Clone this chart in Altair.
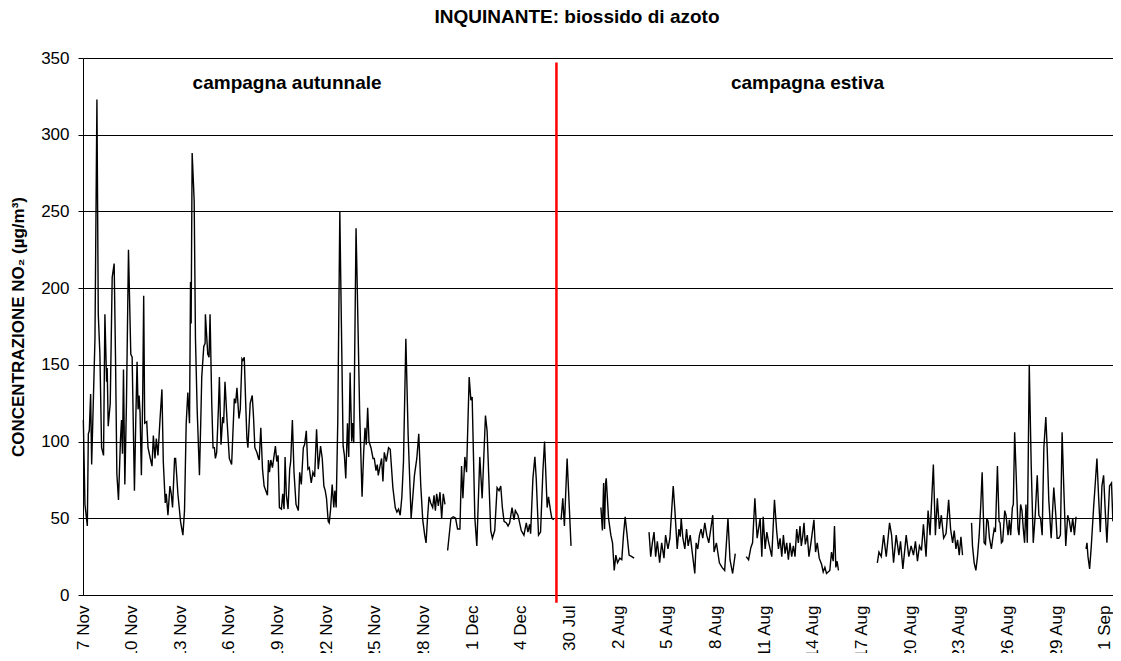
import altair as alt
import pandas as pd

# ---- data (hour index from 7 Nov 00:00, NO2 value); None separates gaps ----
hours = [
    0.5, 2.9, 6.4, 7.9, 9.3, 11.3, 12.8, 15.2, 17.7, 20.6, 22.6, 25, 27.5, 30.4, 32.4, 34.9, 35.8, 37.3, 40.3, 43.2,
    46.1, 48.1, 50.1, 52.5, 55.5, 57, 58.4, 59.9, 61.9, 64.3, 67.3, 70.7, 72.7, 76.1, 78.1, 80, 81.5, 83, 84.4, 86.4,
    88.4, 89.8, 91.3, 94.3, 96.2, 100.1, 102.1, 104.1, 106.5, 108.5, 110.9, 113.9, 114.9, 116.8, 118.8, 121.7, 123.2,
    125.7, 128.6, 130.6, 132.5, 135.5, 137, 140.4, 144.3, 147.8, 150.2, 152.7, 155.1, 157.6, 159.1, 160, 161.5, 164.5,
    166.4, 168.9, 172.3, 174.3, 175.7, 178.7, 180.7, 181.1, 184.6, 186.5, 188, 190.5, 192.4, 194.4, 195.9, 197.8,
    200.3, 201.8, 204.2, 206.7, 208.1, 210.1, 213.1, 216.5, 219.9, 223.9, 225.8, 227.8, 230.7, 232.7, 235.2, 236.6,
    238.6, 240.5, 242.5, 244, 247.4, 250.4, 252.3, 254.3, 257.2, 259.7,
    260.7, 263.1, 265.6, 268, 270.5, 272.9, 274.4, 275.9, 277.9, 280.3, 282.8, 284.7, 286.7, 288.7, 290.6, 293.6,
    295.5, 297.5, 299, 300.9, 303.4, 305.8, 307.3, 309.8, 312.2, 315.2, 318.6, 320.6, 323, 326, 327.9, 330.4, 332.8,
    334.8, 337.7, 340.2, 342.7, 345.6, 348.1, 351.5, 354, 356.4, 358.4, 360.3, 362.8, 364.3, 366.2, 368.7, 371.1,
    372.6, 374.6, 377, 380, 381.4, 384.9, 386.8, 388.8, 391.3, 393.2, 395.2, 397.6, 399.1, 400.6, 404, 405.5, 409.4,
    412.9, 415.3, 417.3, 419.2, 421.2, 423.2, 426.1, 429.1, 431, 433.5, 435.4, 436.9, 439.9, 441.8, 443.8, 445.8,
    448.7, 452.1, 454.6, 458.5, 462, 464.4, 466.9, 469.3, 471.8, 474.2, 477.7, 481.1, 485.5, 488, 490.4, 493.9,
    496.8, 499.8, 502.7, 505.6, 507.6, 509.6, 512, 514.5, 517.4, 519.4, 521.4, 523.3, 525.8, 528.2, 530.7, 533.1,
    535.6, None,
    539.5, 544.4, 547.9, 551.3, 554.2, 557.7, 560.1, 562.1, 565, 567.5, 571.4, 573.9, 575.8, 579.8, 582.7, 587.1,
    590.6, 595.5, 597.9, 603.3, 605.8, 609.2, 612.7, 615.6, 618.1, 620.5, 623, 626.4, 628.9, 631.3, 634.8, 637.7,
    639.7, 643.6, 648.5, 652.4, 655.9, 658.3, 660.8, 662.3, 665.7, 668.6, 670.6, 674, 677, 680.4, 682.9, 686.8,
    688.8, 691.7, 693.7, 696.6, None,
    707.4, 709.9, 712.3, 716.3, 722.1, None,
    766.3, 768.5, 770.3, 771.7, 773.2, 774.2, 777.6, 781, 783.5, 786, 788.4, 790.9, 794.3, 797.2, 799.7, 802.2,
    804.6, 808, 812, 815.4, None,
    837.5, 840, 842.4, 844.9, 847.3, 849.8, 853.2, 856.2, 859.6, 862, 865.5, 868.4, 873.3, 875.8, 879.2, 881.7,
    883.7, 885.1, 887.6, 890.5, 893, 895.4, 898.4, 905.2, 907.2, 909.6, 912.1, 914.6, 917, 920, 922.9, 925.9,
    931.8, 933.7, 937.2, 941.6, 945.5, 949.4, 954.3, 957.3, 961.2, 965.1, None,
    981.3, 984.8, 988.2, 990.7, 994.1, 997.5, 1001.9, 1004.4, 1006.4, 1009.3, 1011.8, 1014.2, 1019.1, 1023.1,
    1026.5, 1029, 1031.4, 1033.9, 1036.3, 1038.8, 1041.2, 1043.7, 1046.1, 1048.6, 1051, 1053.5, 1056, 1058.4,
    1060.9, 1062.8, 1064.8, 1066.8, 1068.7, 1071.7, 1074.1, 1077.1, 1081.5, 1083.9, 1086.4, 1089.3, 1092.8,
    1095.2, 1097.7, 1100.1, 1105, 1107.5, 1110, 1111.9, 1113.9, 1115.8, 1117.8, None,
    1175.3, 1177.7, 1181.1, 1184.6, 1188.5, 1193.4, 1196.4, 1199.3, 1203.2, 1207.2, 1209.6, 1213.1, 1218,
    1221.9, 1225.3, 1228.8, 1231.7, 1234.7, 1237.6, 1240.6, 1243.5, 1247.4, 1250.4, 1253.3, 1258.2, 1261.2,
    1264.1, 1267.1, 1270, 1273.4, 1277, 1280.8, 1283.7, 1286.7, 1289.1, 1291.6, 1294, 1296.5, 1299, 1301.4, None,
    1314.7, 1316.1, 1318.6, 1321.1, 1323.5, 1326, 1328.4, 1330.4, 1333.3, 1335.3, 1337.3, 1339.2, 1341.2,
    1344.1, 1346.1, 1348.1, 1350, 1353, 1355.4, 1356.9, 1358.9, 1360.8, 1363.8, 1365.7, 1368.7, 1370.6, 1372.6,
    1375.1, 1376.5, 1378.5, 1381, 1383.4, 1384.9, 1387.3, 1389.3, 1391.3, 1393.2, 1395.2, 1397.2, 1400.1, 1403,
    1406, 1408.9, 1411.9, 1414.3, 1416.8, 1419.2, 1421.7, 1424.6, 1426.6, 1429, 1432.5, 1436.4, 1439.4, 1441.3,
    1443.8, 1446.2, 1448.7, 1451.1, 1454.1, 1457, 1459.5, 1461.9, 1464.4, 1466.9, 1469.3, None,
    1484.1, 1485.5, 1487, 1489.4, 1491.9, 1495.3, 1497.8, 1500.2, 1502.7, 1505.2, 1507.6, 1510.1, 1512.5, 1515,
    1516.9, 1518.9, 1521.8, 1523.8,
]
values = [
    114, 59, 45, 105, 107, 131, 85, 125, 167, 323, 183, 157, 96, 91, 183, 139, 148, 110, 125, 207,
    216, 155, 79, 62, 102, 114, 92, 147, 72, 125, 225, 157, 155, 68, 114, 152, 121, 130, 119, 78,
    132, 195, 112, 113, 96, 88, 84, 104, 89, 102, 91, 114, 121, 134, 87, 60, 66,
    52, 71, 66, 57, 89, 89, 66, 48, 39, 55, 112, 132, 112, 204, 177, 288, 257,
    167, 121, 78, 114, 142, 162, 164, 183, 157, 155, 183, 125, 96, 96, 89, 93,
    121, 142, 98, 116, 112, 139, 114, 89, 85, 128, 125, 135, 115, 121, 154, 153,
    155, 128, 102, 96, 125, 130, 116, 96, 93, 89,
    88, 109, 82, 71, 68, 65, 88, 80, 88, 83, 91, 97, 87, 91, 57, 56,
    66, 56, 90, 65, 56, 82, 87, 114, 80, 59, 55, 80, 72, 96, 98, 107, 82,
    83, 73, 80, 77, 108, 82, 97, 89, 71, 68, 63, 48, 47, 55, 72, 57,
    68, 57, 114, 250, 205, 97, 91, 76, 112, 90, 145, 100, 112, 99, 239, 207, 118,
    64, 93, 109, 98, 122, 100, 96, 89, 89, 81, 85, 78, 85, 89, 74, 93,
    87, 96, 95, 70, 57, 54, 56, 52, 64, 87, 167, 104, 50, 64, 78, 89,
    105, 71, 49, 39, 34, 49, 64, 60, 57, 65, 55, 66, 58, 67, 50, 66,
    59, None,
    29, 50, 51, 50, 43, 43, 84, 63, 90, 80, 142, 127, 129, 50, 32, 90,
    63, 117, 107, 42, 37, 42, 70, 68, 71, 57, 48, 47, 45, 47, 57, 49,
    55, 52, 42, 39, 47, 41, 46, 40, 76, 90, 76, 39, 41, 80, 100, 57,
    64, 55, 50, 49, None,
    49, 63, 45, 89, 32, None,
    57, 42, 73, 43, 73, 76, 50, 39, 34, 16, 26, 21, 24, 23, 39, 51,
    41, 26, 25, 24, None,
    41, 25, 34, 41, 25, 35, 21, 34, 24, 39, 30, 37, 71, 55, 30, 43,
    38, 50, 37, 30, 43, 32, 39, 14, 34, 30, 39, 43, 37, 47, 39, 34,
    52, 28, 34, 21, 18, 16, 50, 23, 14, 27, None,
    25, 23, 31, 34, 63, 37, 50, 25, 51, 30, 41, 35, 25, 62,
    41, 30, 37, 25, 39, 27, 34, 23, 34, 25, 32, 25, 43, 34,
    45, 32, 38, 47, 33, 39, 25, 34, 49, 28, 34, 24, 20,
    15, 18, 14, 16, 28, 22, 45, 18, 22, 16, None,
    21, 28, 25, 39, 25, 47, 39, 21, 39, 26, 35, 17, 39,
    25, 32, 26, 35, 22, 32, 29, 46, 25, 55, 39, 85, 39,
    63, 43, 52, 37, 40, 62, 43, 34, 42, 30, 36, 26, 38, 26, None,
    47, 32, 21, 16, 25, 39, 59, 80, 34, 33, 50, 48, 37,
    30, 37, 43, 41, 84, 48, 47, 34, 35, 55, 52, 39, 49, 39,
    57, 59, 106, 75, 43, 39, 59, 55, 43, 34, 59, 34, 150, 84,
    34, 52, 78, 52, 50, 39, 96, 116, 96, 62, 37, 70, 52, 37,
    37, 39, 106, 71, 32, 52, 48, 41, 50, 39, 51, None,
    30, 34, 25, 17, 32, 57, 73, 89, 64, 41, 71, 78, 55, 34,
    52, 71, 73, 48,
]

tick_labels = ["7 Nov", "10 Nov", "13 Nov", "16 Nov", "19 Nov", "22 Nov", "25 Nov", "28 Nov",
               "1 Dec", "4 Dec", "30 Jul", "2 Aug", "5 Aug", "8 Aug", "11 Aug", "14 Aug",
               "17 Aug", "20 Aug", "23 Aug", "26 Aug", "29 Aug", "1 Sep"]
tick_hours = [72 * i for i in range(len(tick_labels))]
y_ticks = [0, 50, 100, 150, 200, 250, 300, 350]

campaign_names = ["campagna autunnale", "campagna estiva"]
campaign_hours = [302, 1072]
campaign_y = [334, 334]

split_hour = 700.5
split_top = 347
split_bottom = -5

# ---- build table ----
rows = []
seg = 0
for h, v in zip(hours, values):
    if h is None:
        seg += 1
        continue
    rows.append({"hour": h, "no2": v, "seg": seg})
df = pd.DataFrame(rows)

x_scale = alt.Scale(domain=[0, 1524], nice=False, zero=False)
y_scale = alt.Scale(domain=[0, 350], nice=False)

label_arr = "[" + ",".join("'" + t + "'" for t in tick_labels) + "]"

FONT = "Liberation Sans"

line = alt.Chart(df).mark_line(color="black", strokeWidth=1.4).encode(
    x=alt.X("hour:Q", scale=x_scale,
            axis=alt.Axis(values=tick_hours, labelExpr=label_arr + "[round(datum.value/72)]",
                          labelAngle=270, labelFontSize=17, labelFont=FONT, labelColor="black",
                          labelPadding=10, ticks=False, grid=False, domainColor="black",
                          title=None, labelOverlap=False, labelBound=False, labelFlush=False)),
    y=alt.Y("no2:Q", scale=y_scale,
            axis=alt.Axis(values=y_ticks, labelFontSize=17, labelFont=FONT, labelColor="black",
                          tickSize=5, tickColor="black", domainColor="black",
                          grid=True, gridColor="black", gridWidth=1,
                          title="CONCENTRAZIONE NO₂ (µg/m³)", titleFont=FONT, titleFontSize=17,
                          titleFontWeight="bold", titleColor="black", titleAngle=270,
                          titleBaseline="middle", titleX=-65, titleY=268.5, titleAlign="center",
                          labelPadding=9)),
    detail="seg:N",
)

split_df = pd.DataFrame({"hour": [split_hour], "top": [split_top], "bottom": [split_bottom]})
rule = alt.Chart(split_df).mark_rule(color="#FF0000", strokeWidth=2.5, clip=False).encode(
    x=alt.X("hour:Q", scale=x_scale),
    y=alt.Y("top:Q", scale=y_scale),
    y2="bottom:Q",
)

ann_df = pd.DataFrame({"hour": campaign_hours, "y": campaign_y, "label": campaign_names})
ann = alt.Chart(ann_df).mark_text(font=FONT, fontSize=19, fontWeight="bold", color="black",
                                  baseline="middle", align="center").encode(
    x=alt.X("hour:Q", scale=x_scale),
    y=alt.Y("y:Q", scale=y_scale),
    text="label:N",
)

chart = alt.layer(line, rule, ann).properties(
    width=1030,
    height=537,
    padding={"left": 75, "top": 50, "right": 0, "bottom": 58},
    autosize=alt.AutoSizeParams(type="none"),
    title=alt.TitleParams("INQUINANTE: biossido di azoto", font=FONT, fontSize=19,
                          fontWeight="bold", color="black", anchor="middle", dx=-21, offset=22),
).configure_view(
    fill="#FFCC99", stroke="#8C8C8C", strokeWidth=1.5
).configure(background="white")

chart.save("out.html", embed_options={"renderer": "svg", "actions": False})
